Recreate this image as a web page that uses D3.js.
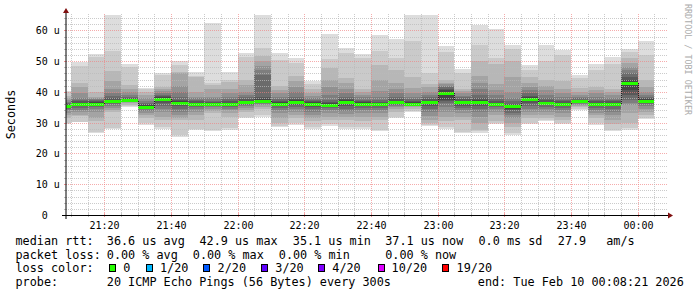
<!DOCTYPE html>
<html>
<head>
<meta charset="utf-8">
<script src="https://cdn.jsdelivr.net/npm/d3@7"></script>
<style>
  body { margin: 0; background: #fff; }
  svg { display: block; }
  text { font-family: "DejaVu Sans Mono", monospace; fill: #000; }
</style>
</head>
<body>
<div id="chart"></div>
<script>
// 5 minute bins, value for (start, start+5min]
const binStarts = [
  "21:05","21:10","21:15","21:20","21:25","21:30","21:35","21:40","21:45","21:50","21:55",
  "22:00","22:05","22:10","22:15","22:20","22:25","22:30","22:35","22:40","22:45","22:50","22:55",
  "23:00","23:05","23:10","23:15","23:20","23:25","23:30","23:35","23:40","23:45","23:50","23:55",
  "00:00"
];

// median rtt per bin, in microseconds
const medianRtt = [
  35.5, 36.1, 36.2, 37.1, 37.3, 35.1, 37.7, 36.3, 36.0, 36.0, 36.1,
  36.7, 37.1, 36.2, 36.7, 36.1, 35.9, 36.8, 36.2, 36.0, 36.7, 36.2, 36.7,
  39.8, 36.8, 36.7, 36.1, 35.4, 37.7, 36.4, 36.0, 36.9, 36.1, 36.0, 42.9,
  37.1
];

// 20 sorted ping times per bin (us)
const pings = [
  [29.6,30.0,31.5,32.5,33.3,34.0,34.6,35.0,35.3,35.4,35.6,35.8,36.0,36.3,36.8,37.3,38.0,38.6,40.0,40.4],
  [30.1,30.3,32.3,32.6,33.5,34.2,34.8,35.3,35.7,36.0,36.2,36.5,37.0,37.5,38.0,39.5,41.5,43.0,48.4,49.7],
  [26.6,27.0,30.4,31.5,33.5,34.5,35.0,35.5,35.8,36.1,36.3,36.6,37.0,37.3,37.6,38.0,38.5,40.0,51.5,52.2],
  [27.9,28.2,33.5,34.2,34.8,35.5,36.0,36.4,36.8,37.0,37.2,37.5,38.0,38.6,39.5,41.0,43.5,46.7,53.2,65.2],
  [35.0,35.4,35.9,36.3,36.6,36.9,37.1,37.2,37.25,37.3,37.35,37.7,38.0,38.5,39.0,40.0,41.0,42.1,48.0,49.1],
  [29.3,29.8,31.5,32.5,33.2,33.8,34.3,34.7,35.0,35.1,35.2,35.7,36.0,36.5,37.0,38.0,39.0,40.0,40.8,41.3],
  [28.0,28.5,31.0,32.0,33.5,34.5,35.5,36.3,37.0,37.6,37.8,38.3,38.7,39.0,39.5,40.2,41.0,41.6,45.5,46.3],
  [25.5,26.0,31.0,31.5,32.5,33.5,34.5,35.3,35.8,36.2,36.4,37.0,37.5,38.5,40.0,42.0,46.0,46.5,48.9,50.0],
  [27.7,28.0,31.0,32.5,33.5,34.3,35.0,35.5,35.8,35.95,36.05,36.5,37.0,37.5,38.0,38.5,40.0,44.8,45.3,46.6],
  [27.2,27.5,33.0,33.8,34.5,35.0,35.4,35.7,35.9,35.95,36.05,36.4,36.8,37.2,38.0,38.5,40.8,42.4,43.0,62.5],
  [27.7,28.2,32.0,33.0,34.0,34.6,35.2,35.6,35.9,36.05,36.15,36.5,37.0,37.6,38.5,39.5,41.0,43.1,44.0,46.4],
  [31.5,32.0,33.5,34.0,34.7,35.3,35.8,36.2,36.5,36.65,36.75,37.2,37.6,38.2,39.0,40.0,42.1,44.0,51.5,52.5],
  [32.0,32.5,34.5,35.2,35.8,36.2,36.6,36.8,37.0,37.05,37.15,37.8,38.5,45.6,47.0,48.5,50.0,51.7,54.3,65.2],
  [28.5,29.0,29.9,31.5,33.0,34.0,34.8,35.4,35.9,36.15,36.3,36.6,37.0,37.6,38.5,39.5,40.5,42.0,50.3,52.5],
  [29.3,29.8,31.5,32.5,33.5,34.3,35.0,35.6,36.1,36.6,36.8,37.3,37.8,38.5,40.0,41.5,43.5,45.1,49.5,50.9],
  [28.0,28.5,30.5,31.5,32.5,33.5,34.3,35.0,35.6,36.05,36.2,36.6,37.0,37.5,38.0,38.8,39.5,40.8,42.5,43.5],
  [29.0,29.5,31.0,32.0,33.0,34.0,34.8,35.3,35.7,35.85,36.0,36.3,36.8,37.5,39.0,41.5,44.0,47.8,50.8,58.7],
  [28.0,28.5,31.0,31.8,32.8,33.7,34.5,35.3,36.0,36.7,36.9,37.3,37.8,38.5,39.5,41.0,42.9,44.5,52.5,54.3],
  [28.0,28.5,30.5,32.0,33.0,34.0,34.7,35.3,35.8,36.15,36.3,36.6,37.0,37.5,38.2,39.0,40.0,41.0,51.0,52.2],
  [27.2,27.6,31.0,32.0,33.0,34.0,34.8,35.3,35.7,35.95,36.1,36.4,36.8,37.5,38.5,40.2,44.0,48.9,53.2,58.4],
  [31.5,31.8,33.5,34.3,35.0,35.5,35.9,36.2,36.5,36.65,36.8,37.2,37.8,38.5,39.5,41.0,42.9,47.0,51.1,57.3],
  [33.5,33.9,34.5,35.0,35.4,35.7,35.9,36.0,36.1,36.15,36.3,36.6,37.0,37.8,38.5,39.5,41.3,45.0,56.5,65.2],
  [28.8,29.2,30.0,31.0,32.3,33.5,34.5,35.3,36.0,36.6,36.9,37.2,37.6,38.2,39.0,40.0,41.5,42.5,46.2,65.2],
  [28.0,28.5,30.5,32.0,33.5,35.0,36.5,37.0,37.5,39.6,40.0,40.5,41.0,41.5,42.0,42.5,42.9,44.0,53.0,54.9],
  [26.6,27.0,31.0,32.0,33.0,34.0,34.8,35.5,36.0,36.7,36.9,37.2,37.6,38.2,38.8,39.5,40.2,40.8,46.0,47.3],
  [26.8,27.3,27.7,30.0,32.0,33.5,34.5,35.5,36.2,36.6,36.9,37.3,38.0,39.0,41.0,43.0,45.1,50.0,55.4,61.6],
  [29.5,30.0,30.5,32.5,33.5,34.3,35.0,35.5,35.8,36.05,36.2,36.5,37.0,37.8,39.0,40.5,42.5,49.0,51.1,60.6],
  [26.1,26.5,28.5,30.0,31.5,32.5,33.3,34.0,34.6,35.3,35.5,35.8,36.2,37.0,38.0,40.0,45.0,50.0,54.0,55.1],
  [29.6,30.0,31.5,32.5,33.5,34.5,35.5,36.5,37.2,37.6,37.9,38.3,38.8,39.5,40.5,41.5,43.0,45.0,47.0,48.9],
  [30.7,31.0,31.5,32.5,33.5,34.3,35.0,35.6,36.0,36.35,36.5,36.8,37.3,38.0,39.0,40.5,42.0,44.0,50.2,55.1],
  [29.6,30.0,31.0,32.0,33.0,34.0,34.8,35.4,35.8,35.95,36.1,36.5,36.9,37.5,38.5,39.5,41.0,43.5,52.0,53.5],
  [34.2,34.5,35.0,35.4,35.8,36.1,36.4,36.6,36.8,36.85,37.0,37.2,37.5,37.9,38.4,39.0,40.0,41.3,44.5,45.4],
  [29.3,29.8,31.5,32.5,33.3,34.0,34.8,35.4,35.8,36.05,36.2,36.5,37.0,37.5,38.5,39.5,40.5,41.5,47.0,49.2],
  [27.2,27.6,29.5,31.0,32.5,33.5,34.5,35.3,35.8,35.95,36.1,36.5,36.9,37.4,38.0,39.0,40.0,40.8,49.0,51.3],
  [27.7,28.2,30.0,33.0,35.9,36.5,37.5,39.0,40.5,42.5,43.3,44.0,45.0,46.0,47.0,48.0,49.5,51.0,53.0,54.0],
  [31.2,31.5,32.5,33.5,34.5,35.3,36.0,36.5,36.9,37.05,37.2,37.7,38.0,38.5,39.0,40.0,41.5,44.0,52.0,56.7]
];

const yTickValues = [0, 10, 20, 30, 40, 50, 60];
const lossLabels = ["0", "1/20", "2/20", "3/20", "4/20", "10/20", "19/20"];
const lossColors = ["#26ff00", "#00b8ff", "#0059ff", "#5e00ff", "#7e00ff", "#dd00ff", "#ff0000"];
const smokeGrays = ["#dddddd","#cacaca","#b7b7b7","#a4a4a4","#919191","#7e7e7e","#6b6b6b","#585858","#454545","#323232"];

const rttLegend = ["median rtt:", "36.6 us avg", "42.9 us max", "35.1 us min", "37.1 us now", "0.0 ms sd", "27.9", "am/s"];
const lossLegend = ["packet loss:", "0.00 % avg", "0.00 % max", "0.00 % min", "0.00 % now"];
const probeLegend = ["probe:", "20 ICMP Echo Pings (56 Bytes) every 300s", "end: Tue Feb 10 00:08:21 2026"];

const graphStart = new Date(2026, 1, 9, 21, 8, 21);
const graphEnd = new Date(2026, 1, 10, 0, 8, 21);

function parseBin(s) {
  const [h, m] = s.split(":").map(Number);
  return new Date(2026, 1, h < 12 ? 10 : 9, h, m);
}

const W = 697, H = 297;
const X0 = 66, X1 = 666, Y0 = 215, Y1 = 15;

const svg = d3.select("#chart").append("svg")
  .attr("width", W)
  .attr("height", H);

const x = d3.scaleTime().domain([graphStart, graphEnd]).range([X0, X1]);
const y = d3.scaleLinear().domain([0, 65]).range([Y0, Y1]);

svg.append("clipPath").attr("id", "plot")
  .append("rect")
  .attr("x", X0).attr("y", Y1)
  .attr("width", X1 - X0).attr("height", Y0 - Y1);

const bins = binStarts.map((s, i) => {
  const t0 = parseBin(s);
  return { t0, t1: d3.timeMinute.offset(t0, 5), median: medianRtt[i], p: pings[i] };
});

// smoke: band k goes from ping k to ping 19-k, darker towards the middle
const smoke = svg.append("g")
  .attr("clip-path", "url(#plot)")
  .attr("shape-rendering", "crispEdges");

smoke.selectAll("g")
  .data(bins)
  .join("g")
  .each(function (b) {
    const xa = Math.floor(x(b.t0)), xb = Math.floor(x(b.t1));
    d3.select(this).selectAll("rect")
      .data(smokeGrays.map((c, k) => ({ c, lo: b.p[k], hi: b.p[19 - k] })))
      .join("rect")
      .attr("x", xa)
      .attr("width", xb - xa)
      .attr("y", d => Math.round(y(d.hi)))
      .attr("height", d => Math.max(Math.round(y(d.lo)) - Math.round(y(d.hi)), 1))
      .attr("fill", d => d.c);
  });

// median: dark step line plus the loss colour band
const medPts = bins.map(b => [Math.floor(x(b.t0)), Math.round(y(b.median)) + 0.5]);
const lastBin = bins[bins.length - 1];
medPts.push([Math.floor(x(lastBin.t1)), Math.round(y(lastBin.median)) + 0.5]);

const med = svg.append("g").attr("clip-path", "url(#plot)");
med.append("path")
  .attr("d", d3.line().curve(d3.curveStepAfter)(medPts))
  .attr("fill", "none")
  .attr("stroke", "#202020")
  .attr("stroke-width", 1)
  .attr("shape-rendering", "crispEdges");

med.selectAll("rect")
  .data(bins)
  .join("rect")
  .attr("shape-rendering", "crispEdges")
  .attr("x", d => Math.floor(x(d.t0)))
  .attr("width", d => Math.floor(x(d.t1)) - Math.floor(x(d.t0)))
  .attr("y", d => Math.round(y(d.median)) - 1)
  .attr("height", 3)
  .attr("fill", lossColors[0]);

// grid
const minorCol = "rgba(186,186,186,0.75)";
const majorCol = "rgba(240,128,128,0.65)";
const grid = svg.append("g").attr("shape-rendering", "crispEdges");

const hMinor = d3.range(2, 65, 2).filter(v => v % 10 !== 0);
const hMajor = yTickValues.filter(v => v > 0);
function hLine(vals, col) {
  vals.forEach(v => {
    const yy = Math.round(y(v)) + 0.5;
    grid.append("line").attr("x1", X0 - 2).attr("x2", X1 + 2).attr("y1", yy).attr("y2", yy)
      .attr("stroke", col).attr("stroke-dasharray", "1,1");
    grid.append("line").attr("x1", X0 - 2).attr("x2", X0).attr("y1", yy).attr("y2", yy).attr("stroke", col);
  });
}
hLine(hMinor, minorCol);
hLine(hMajor, majorCol);

const vMajor = d3.timeMinute.every(20).range(graphStart, graphEnd);
const vMinor = d3.timeMinute.every(5).range(graphStart, graphEnd)
  .filter(t => t.getMinutes() % 20 !== 0);
function vLine(vals, col) {
  vals.forEach(t => {
    const xx = Math.floor(x(t)) + 0.5;
    grid.append("line").attr("x1", xx).attr("x2", xx).attr("y1", Y0 + 2).attr("y2", Y1 - 2)
      .attr("stroke", col).attr("stroke-dasharray", "1,1");
    grid.append("line").attr("x1", xx).attr("x2", xx).attr("y1", Y0 - 2).attr("y2", Y0 + 2).attr("stroke", col);
  });
}
vLine(vMinor, minorCol);
vLine(vMajor, majorCol);

// axes and arrows
svg.append("line")
  .attr("x1", X0 - 4).attr("x2", X1 + 4).attr("y1", Y0 + 0.5).attr("y2", Y0 + 0.5)
  .attr("stroke", "#000").attr("shape-rendering", "crispEdges");
svg.append("line")
  .attr("x1", X0).attr("x2", X0).attr("y1", Y0 + 4).attr("y2", Y1 - 4)
  .attr("stroke", "#000");
svg.append("path")
  .attr("d", `M${X1 + 2},${Y0 - 3}L${X1 + 2},${Y0 + 3}L${X1 + 7},${Y0}Z`)
  .attr("transform", "translate(0,0.5)")
  .attr("fill", "#801010");
svg.append("path")
  .attr("d", `M${X0 - 3},${Y1 - 2}L${X0 + 3},${Y1 - 2}L${X0},${Y1 - 7}Z`)
  .attr("fill", "#801010");

// tick labels
svg.append("g").selectAll("text")
  .data(yTickValues)
  .join("text")
  .attr("x", d => d === 0 ? 47.8 : 59.8)
  .attr("y", d => Math.round(y(d)) + 4)
  .attr("text-anchor", "end")
  .attr("font-size", 10)
  .text(d => d === 0 ? "0" : `${d} u`);

svg.append("g").selectAll("text")
  .data(vMajor)
  .join("text")
  .attr("x", d => Math.floor(x(d)) + 0.5)
  .attr("y", 228.5)
  .attr("text-anchor", "middle")
  .attr("font-size", 10)
  .text(d3.timeFormat("%H:%M"));

svg.append("text")
  .attr("transform", "translate(15,114.5) rotate(-90)")
  .attr("text-anchor", "middle")
  .attr("font-size", 11.8)
  .text("Seconds");

svg.append("text")
  .attr("transform", "translate(684.5,4) rotate(90)")
  .attr("font-size", 8.5)
  .attr("textLength", 111)
  .attr("lengthAdjust", "spacingAndGlyphs")
  .style("fill", "#ababab")
  .text("RRDTOOL / TOBI OETIKER");

// legend
const legend = svg.append("g").attr("font-size", 11.8).attr("xml:space", "preserve");
const rttX = [16, 107.3, 200, 293.3, 385.7, 479, 558.3, 606.7];
const lossX = [16, 107.3, 193.3, 279.3, 385.7];
const probeX = [16, 107.3, 478.3];
const boxX = [108.7, 145.7, 203, 261, 318.3, 377.7, 442.3];
const boxTextX = [124, 160.7, 218.3, 276, 333, 392.3, 457.3];

function legendRow(strings, xs, base) {
  strings.forEach((s, i) => {
    legend.append("text").attr("x", xs[i] - 0.5).attr("y", base).text(s);
  });
}
legendRow(rttLegend, rttX, 244.7);
legendRow(lossLegend, lossX, 258.5);
legend.append("text").attr("x", 15.5).attr("y", 272.3).text("loss color:");
lossLabels.forEach((l, i) => {
  legend.append("rect")
    .attr("x", boxX[i] + 0.5).attr("y", 264.5)
    .attr("width", 6).attr("height", 7)
    .attr("fill", lossColors[i])
    .attr("stroke", "#000")
    .attr("shape-rendering", "crispEdges");
  legend.append("text").attr("x", boxTextX[i] - 0.7).attr("y", 272.3).text(l);
});
legendRow(probeLegend, probeX, 286);
</script>
</body>
</html>
